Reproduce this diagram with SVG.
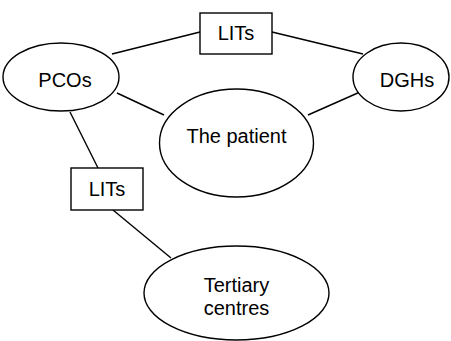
<svg xmlns="http://www.w3.org/2000/svg" width="451" height="341" viewBox="0 0 451 341">
<style>
.s{fill:#fff;stroke:#000;stroke-width:1.4}
.c line{stroke:#000;stroke-width:1.4}
text{font-family:"Liberation Sans",Arial,sans-serif;font-size:20px;fill:#000;text-anchor:middle}
</style>
<rect width="451" height="341" fill="#fff"/>
<g class="c" id="connectors">
<line x1="112" y1="54" x2="200" y2="32"/>
<line x1="272" y1="32" x2="363" y2="54"/>
<line x1="117" y1="93" x2="164" y2="115"/>
<line x1="360" y1="92" x2="308" y2="115"/>
<line x1="70" y1="112" x2="98" y2="168"/>
<line x1="113" y1="210" x2="171" y2="258"/>
</g>
<g id="lits-top"><rect class="s" x="200" y="13" width="72" height="41"/><text x="236" y="40">LITs</text></g>
<g id="pcos"><ellipse class="s" cx="61" cy="77" rx="58" ry="34"/><text x="65" y="87">PCOs</text></g>
<g id="dghs"><ellipse class="s" cx="401" cy="77" rx="48" ry="34"/><text x="407" y="87">DGHs</text></g>
<g id="patient"><ellipse class="s" cx="236.5" cy="143" rx="77" ry="54"/><text x="236.5" y="143">The patient</text></g>
<g id="lits-bottom"><rect class="s" x="71" y="168" width="72" height="42"/><text x="107" y="196">LITs</text></g>
<g id="tertiary"><ellipse class="s" cx="236.5" cy="293" rx="92.5" ry="47"/><text x="236.5" y="292">Tertiary</text><text x="236.5" y="315">centres</text></g>
</svg>
